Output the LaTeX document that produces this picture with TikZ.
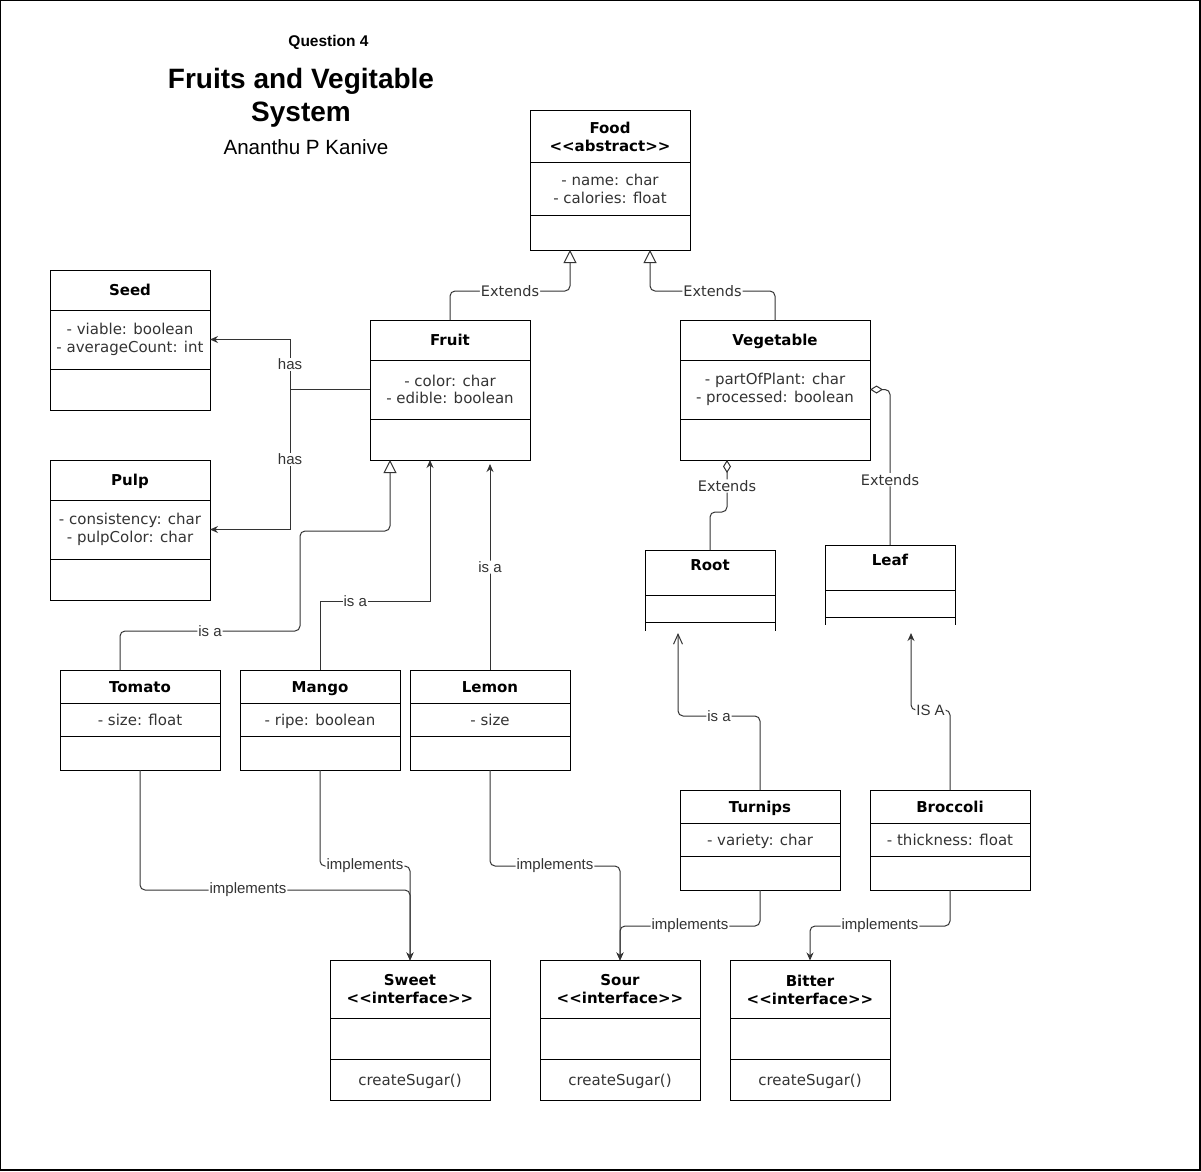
\documentclass[tikz,border=0pt]{standalone}
\usepackage{fontspec}
\setmainfont{DejaVu Sans}
\newfontfamily\arialfont{Liberation Sans}
\usetikzlibrary{positioning, arrows.meta}

\definecolor{ink}{HTML}{333333}

\begin{document}
\begin{tikzpicture}[x=1pt, y=-1pt, thick,
    head/.style = {draw, outer sep=0pt, minimum width=160, align=center, font=\fontsize{15}{18}\selectfont\bfseries},
    body/.style = {draw, outer sep=0pt, minimum width=160, align=center, text=ink, font=\fontsize{15}{17.5}\selectfont},
    single/.style = {text height=11pt, text depth=0pt},
    stub/.style = {body, draw=none},
    lbl/.style = {fill=white, inner sep=1pt, text=ink, font=\arialfont\fontsize{15}{15}\selectfont},
    ext/.style = {fill=white, inner sep=1pt, text=ink, font=\fontsize{14.5}{15}\selectfont},
    conn/.style = {draw=ink, line width=1pt, rounded corners=5pt},
    gen/.style = {conn, -{Triangle[open, length=13pt, width=13pt]}},
    isa/.style = {conn, -{Stealth[length=8pt, width=7pt]}},
    agg/.style = {conn, {Diamond[open, length=13pt, width=8pt]}-},
    barb/.style = {conn, -{Straight Barb[length=10pt, width=9pt]}}]

    \path[use as bounding box] (0,0) rectangle (1201,1171);
    \draw[line width=1.2pt] (0.6,0.6) rectangle (1200,1170);

    \node[font=\arialfont\bfseries\fontsize{15.5}{18}\selectfont] (q) at (328.5,42) {Question 4};
    \node[font=\arialfont\bfseries\fontsize{28}{33}\selectfont, align=center] (title) at (301,98) {Fruits and Vegitable\\System};
    \node[font=\arialfont\fontsize{20.6}{24}\selectfont] (author) at (306,147) {Ananthu P Kanive};

    \node[head, minimum height=52] (food) at (610,136.5) {Food\\<{}<abstract>{}>};
    \node[body, minimum height=53] (food-a) [below=0pt of food] {- name: char\\- calories: float};
    \node[body, minimum height=34.5] (food-m) [below=0pt of food-a] {};

    \node[head, single, minimum height=40] (fruit) at (450,340) {Fruit};
    \node[body, minimum height=59] (fruit-a) [below=0pt of fruit] {- color: char\\- edible: boolean};
    \node[body, minimum height=41] (fruit-m) [below=0pt of fruit-a] {};

    \node[head, single, minimum height=40, minimum width=190] (veg) at (775,340) {Vegetable};
    \node[body, minimum height=59, minimum width=190] (veg-a) [below=0pt of veg] {- partOfPlant: char\\- processed: boolean};
    \node[body, minimum height=41, minimum width=190] (veg-m) [below=0pt of veg-a] {};

    \node[head, single, minimum height=40] (seed) at (130,290) {Seed};
    \node[body, minimum height=59] (seed-a) [below=0pt of seed] {- viable: boolean\\- averageCount: int};
    \node[body, minimum height=41] (seed-m) [below=0pt of seed-a] {};

    \node[head, single, minimum height=40] (pulp) [below=50pt of seed-m] {Pulp};
    \node[body, minimum height=59] (pulp-a) [below=0pt of pulp] {- consistency: char\\- pulpColor: char};
    \node[body, minimum height=41] (pulp-m) [below=0pt of pulp-a] {};

    \node[head, minimum height=45, minimum width=130] (root) at (710,572.5) {\raisebox{15pt}{Root}};
    \node[body, minimum height=27, minimum width=130] (root-a) [below=0pt of root] {};
    \node[stub, minimum height=9, minimum width=130] (root-m) [below=0pt of root-a] {};
    \draw (root-m.north west) -- (root-m.south west) (root-m.north east) -- (root-m.south east);

    \node[head, minimum height=45, minimum width=130] (leaf) at (890,567.5) {\raisebox{16pt}{Leaf}};
    \node[body, minimum height=27, minimum width=130] (leaf-a) [below=0pt of leaf] {};
    \node[stub, minimum height=8, minimum width=130] (leaf-m) [below=0pt of leaf-a] {};
    \draw (leaf-m.north west) -- (leaf-m.south west) (leaf-m.north east) -- (leaf-m.south east);

    \node[head, single, minimum height=33] (tomato) at (140,686.5) {Tomato};
    \node[body, single, minimum height=33] (tomato-a) [below=0pt of tomato] {- size: float};
    \node[body, minimum height=34] (tomato-m) [below=0pt of tomato-a] {};

    \node[head, single, minimum height=33] (mango) [right=20pt of tomato] {Mango};
    \node[body, single, minimum height=33] (mango-a) [below=0pt of mango] {- ripe: boolean};
    \node[body, minimum height=34] (mango-m) [below=0pt of mango-a] {};

    \node[head, single, minimum height=33] (lemon) [right=10pt of mango] {Lemon};
    \node[body, single, minimum height=33] (lemon-a) [below=0pt of lemon] {- size};
    \node[body, minimum height=34] (lemon-m) [below=0pt of lemon-a] {};

    \node[head, single, minimum height=33] (turnips) at (760,806.5) {Turnips};
    \node[body, single, minimum height=33] (turnips-a) [below=0pt of turnips] {- variety: char};
    \node[body, minimum height=34] (turnips-m) [below=0pt of turnips-a] {};

    \node[head, single, minimum height=33] (broccoli) [right=30pt of turnips] {Broccoli};
    \node[body, single, minimum height=33] (broccoli-a) [below=0pt of broccoli] {- thickness: float};
    \node[body, minimum height=34] (broccoli-m) [below=0pt of broccoli-a] {};

    \node[head, minimum height=58] (sweet) at (410,989.5) {Sweet\\<{}<interface>{}>};
    \node[body, minimum height=41] (sweet-a) [below=0pt of sweet] {};
    \node[body, single, minimum height=41] (sweet-m) [below=0pt of sweet-a] {createSugar()};

    \node[head, minimum height=58] (sour) [right=50pt of sweet] {Sour\\<{}<interface>{}>};
    \node[body, minimum height=41] (sour-a) [below=0pt of sour] {};
    \node[body, single, minimum height=41] (sour-m) [below=0pt of sour-a] {createSugar()};

    \node[head, minimum height=58] (bitter) [right=30pt of sour] {Bitter\\<{}<interface>{}>};
    \node[body, minimum height=41] (bitter-a) [below=0pt of bitter] {};
    \node[body, single, minimum height=41] (bitter-m) [below=0pt of bitter-a] {createSugar()};


    \draw[gen] (fruit.north) -- ++(0,-29) -| node[ext, pos=0.25] {Extends} ([xshift=-40]food-m.south);
    \draw[gen] (veg.north) -- ++(0,-29) -| node[ext, pos=0.25] {Extends} ([xshift=40]food-m.south);

    \draw[isa, sharp corners] (fruit-a.west) -- ++(-80,0) |- node[lbl, pos=0.25] {has} (seed-a.east);
    \draw[isa, sharp corners] (fruit-a.west) -- ++(-80,0) |- node[lbl, pos=0.25] {has} (pulp-a.east);

    \draw[gen] ([xshift=-20]tomato.north) -- ++(0,-39) -- node[lbl] {is a} ++(180,0) -- ++(0,-100) -| ([xshift=-60]fruit-m.south);
    \draw[isa, sharp corners] (mango.north) -- ++(0,-69) -| node[lbl, pos=0.16] {is a} ([xshift=-20]fruit-m.south);
    \draw[isa] (lemon.north) -- node[lbl] {is a} ([xshift=40,yshift=-4]fruit-m.south);

    \draw[agg] ([xshift=-48]veg-m.south) -- node[ext] {Extends} ++(0,52) -| (root.north);
    \draw[agg] (veg-a.east) -| node[ext, pos=0.79] {Extends} (leaf.north);

    \draw[barb] (turnips.north) -- ++(0,-74) -| node[lbl, pos=0.25] {is a} ([xshift=-32,yshift=-2]root-m.south);
    \draw[isa] (broccoli.north) -- ++(0,-80) -| node[lbl, pos=0.25] {IS A} ([xshift=21,yshift=-8]leaf-m.south);

    \draw[isa] (tomato-m.south) -- ++(0,120) -| node[lbl, pos=0.2] {implements} (sweet.north);
    \draw[isa] (mango-m.south) -- ++(0,96) -| node[lbl, pos=0.25] {implements} (sweet.north);
    \draw[isa] (lemon-m.south) -- ++(0,96) -| node[lbl, pos=0.25] {implements} (sour.north);
    \draw[isa] (turnips-m.south) -- ++(0,36) -| node[lbl, pos=0.25] {implements} (sour.north);
    \draw[isa] (broccoli-m.south) -- ++(0,36) -| node[lbl, pos=0.25] {implements} (bitter.north);
\end{tikzpicture}
\end{document}
